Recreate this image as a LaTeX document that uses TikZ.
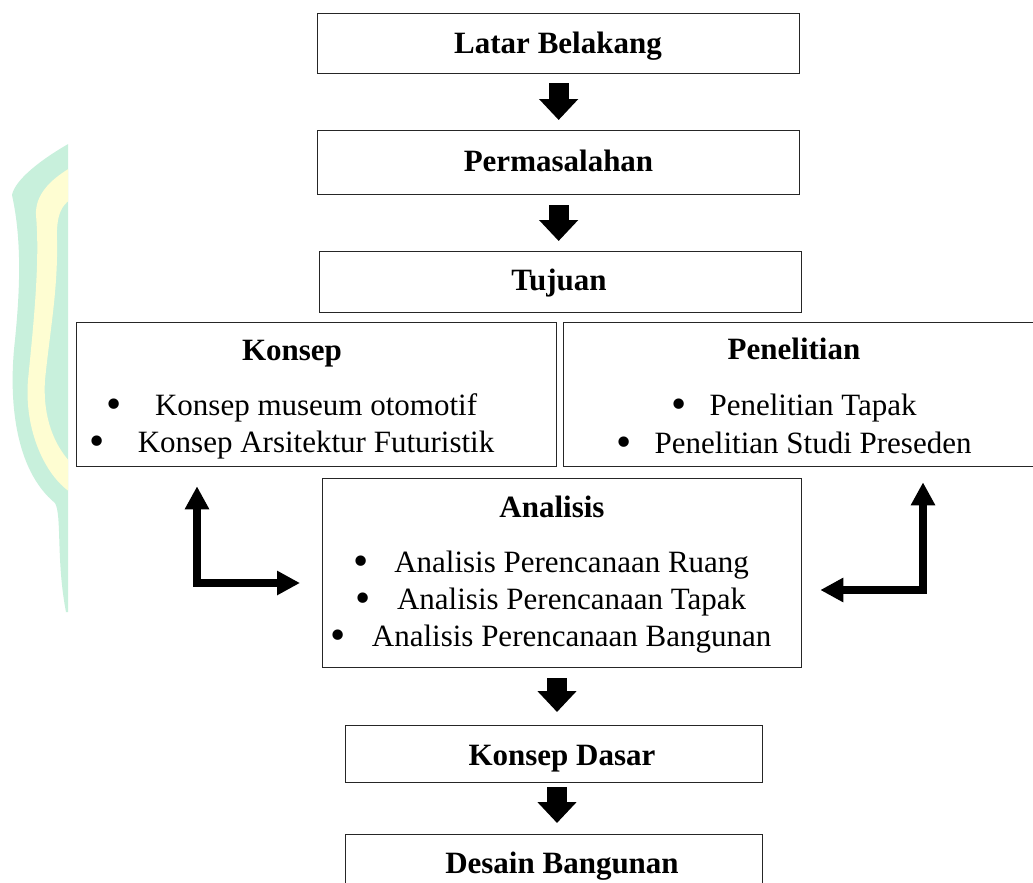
\documentclass[tikz,border=0pt]{standalone}
\usepackage{fontspec}
\setmainfont{Liberation Serif}
\usetikzlibrary{arrows.meta}
\definecolor{wmgreen}{HTML}{C8F0DC}
\definecolor{wmyellow}{HTML}{FEFDD2}
\newcommand{\bigbul}{\smash{\raisebox{-0.11em}{\scalebox{1.4}{\textbullet}}}}
\tikzset{
  box/.style={draw=black!85, line width=1.3pt, rectangle, inner sep=0pt, anchor=north west},
  ttl/.style={font=\fontsize{31}{37}\selectfont\bfseries, inner sep=0pt, anchor=base},
  itm/.style={font=\fontsize{31}{37}\selectfont, inner sep=0pt, anchor=base},
  blockarrow/.style={line width=20pt, -{Triangle[width=38pt,length=21pt]}},
  larrow/.style={line width=8pt, {Triangle[width=23pt,length=23pt]}-{Triangle[width=23pt,length=23pt]}},
}
\begin{document}
\begin{tikzpicture}[x=1pt,y=-1pt]
\clip (0,0) rectangle (1033,883);
\fill[white] (0,0) rectangle (1033,883);
% watermark (clipped)
\begin{scope}
\clip (0,0) rectangle (68,883);
\fill[wmgreen] (70,143) .. controls (40,160) and (15,180) .. (12,195)
  .. controls (22,240) and (20,290) .. (15,340)
  .. controls (8,400) and (15,470) .. (55,503)
  .. controls (62,515) and (56,560) .. (66,612) -- (70,612) -- cycle;
\fill[wmyellow] (70,168) .. controls (50,180) and (35,195) .. (36,215)
  .. controls (40,260) and (34,320) .. (28,380)
  .. controls (24,430) and (45,475) .. (70,492)
  -- (70,462) .. controls (50,440) and (43,410) .. (45,380)
  .. controls (50,330) and (58,290) .. (57,240)
  .. controls (56,215) and (62,205) .. (70,200) -- cycle;
\end{scope}
% boxes
\node[box, minimum width=482pt, minimum height=60pt] (lb) at (317,13) {};
\node[box, minimum width=482pt, minimum height=64pt] (perm) at (317,130) {};
\node[box, minimum width=482pt, minimum height=61pt] (tuj) at (319,251) {};
\node[box, minimum width=480pt, minimum height=144pt] (konsep) at (76,322) {};
\node[box, minimum width=480pt, minimum height=144pt] (pen) at (563,322) {};
\node[box, minimum width=479pt, minimum height=189pt] (ana) at (322,478) {};
\node[box, minimum width=417pt, minimum height=57pt] (kd) at (345,725) {};
\node[box, minimum width=417pt, minimum height=80pt] (db) at (345,834) {};
% texts
\node[ttl] (tlb) at (558,53) {Latar Belakang};
\node[ttl] (tperm) at (558.5,171) {Permasalahan};
\node[ttl] (ttuj) at (559,290) {Tujuan};
\node[ttl] (tkon) at (292,360) {Konsep};
\node[itm] (k1) at (292,415) {\bigbul\hspace{33pt}Konsep museum otomotif};
\node[itm] (k2) at (292,452) {\bigbul\hspace{33pt}Konsep Arsitektur Futuristik};
\node[ttl] (tpen) at (794,359) {Penelitian};
\node[itm] (p1) at (794,415) {\bigbul\hspace{23pt}Penelitian Tapak};
\node[itm] (p2) at (794,453) {\bigbul\hspace{23pt}Penelitian Studi Preseden};
\node[ttl] (tana) at (552,517) {Analisis};
\node[itm] (a1) at (551,572) {\bigbul\hspace{26pt}Analisis Perencanaan Ruang};
\node[itm] (a2) at (551,609) {\bigbul\hspace{26pt}Analisis Perencanaan Tapak};
\node[itm] (a3) at (551,646) {\bigbul\hspace{26pt}Analisis Perencanaan Bangunan};
\node[ttl] (tkd) at (562,765) {Konsep Dasar};
\node[ttl] (tdb) at (562,873) {Desain Bangunan};
% block arrows
\coordinate (ax) at (557,0);
\draw[blockarrow, shorten <=9pt, shorten >=10pt] (lb.south) -- (perm.north);
\draw[blockarrow, shorten <=10pt, shorten >=10pt] (perm.south) -- (perm.south |- tuj.north);
\draw[blockarrow, shorten <=10pt, shorten >=13pt] (ana.south -| ax) -- (kd.north -| ax);
\draw[blockarrow, shorten <=4pt, shorten >=11pt] (kd.south -| ax) -- (db.north -| ax);
% L arrows
\coordinate (lc) at (197,583);
\coordinate (rc) at (923,590);
\draw[larrow, shorten <=19pt, shorten >=22pt] (konsep.south -| lc) -- (lc) -- (lc -| ana.west);
\draw[larrow, shorten <=15pt, shorten >=18pt] (pen.south -| rc) -- (rc) -- (rc -| ana.east);
\end{tikzpicture}
\end{document}
